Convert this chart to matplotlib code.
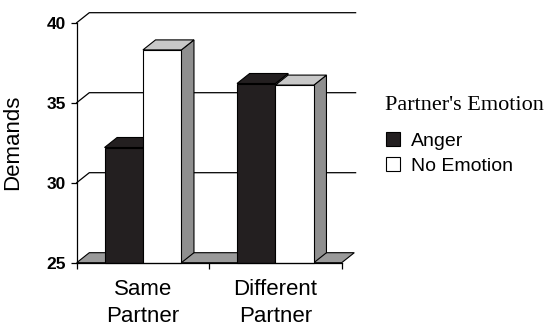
"""Pseudo-3D grouped bar chart: demands by partner and partner's emotion."""

import matplotlib

matplotlib.use("Agg")
import matplotlib.pyplot as plt
from matplotlib.patches import Patch, Polygon

categories = ["Same\nPartner", "Different\nPartner"]
anger = [32.2, 36.2]
no_emotion = [38.3, 36.1]
series_labels = ["Anger", "No Emotion"]
legend_title = "Partner's Emotion"
y_ticks = [25, 30, 35, 40]

plt.rcParams["font.family"] = ["Liberation Sans", "DejaVu Sans"]

# depth offset of the fake 3d box, in data units
DX, DY = 0.095, 0.625
BAR_W = 0.29
FLOOR = 25

fig = plt.figure(figsize=(5.49, 3.27), dpi=100)
ax = fig.add_axes([76.7 / 549, 64.3 / 327, 291.5 / 549, 256 / 327])
ax.set_xlim(0, 2.2)
ax.set_ylim(FLOOR, 41)


def bar3d(x0, top, face, top_color, side_color):
    edge = dict(edgecolor="black", linewidth=0.8, clip_on=False, zorder=3)
    x1 = x0 + BAR_W
    ax.add_patch(Polygon([(x1, FLOOR), (x1, top), (x1 + DX, top + DY),
                          (x1 + DX, FLOOR + DY)], facecolor=side_color, **edge))
    ax.add_patch(Polygon([(x0, top), (x1, top), (x1 + DX, top + DY),
                          (x0 + DX, top + DY)], facecolor=top_color, **edge))
    ax.add_patch(Polygon([(x0, FLOOR), (x1, FLOOR), (x1, top), (x0, top)],
                         facecolor=face, **edge))


# back wall gridlines with the diagonal side-wall edge
n = len(categories)
for v in y_ticks[1:]:
    ax.plot([0, DX, n + DX + 0.01], [v, v + DY, v + DY], color="black",
            lw=0.9, clip_on=False, zorder=1)

# floor
ax.add_patch(Polygon([(0, FLOOR), (n, FLOOR), (n + DX, FLOOR + DY),
                      (DX, FLOOR + DY)], facecolor="#9a9a9a",
                     edgecolor="black", linewidth=0.8, clip_on=False,
                     zorder=2))

for i in range(n):
    centre = i + 0.5
    bar3d(centre - BAR_W, anger[i], "#231f20", "#231f20", "#8f8f8f")
    bar3d(centre, no_emotion[i], "white", "#c8c8c8", "#8f8f8f")

for side in ["top", "right"]:
    ax.spines[side].set_visible(False)
ax.spines["left"].set_bounds(25, 40)
ax.spines["bottom"].set_bounds(0, n)
ax.spines["left"].set_linewidth(0.9)
ax.spines["bottom"].set_linewidth(0.9)
ax.spines["bottom"].set_zorder(4)

ax.set_yticks(y_ticks)
ax.set_yticklabels([str(t) for t in y_ticks], fontsize=12.5, fontweight="bold")
ax.tick_params(axis="y", direction="out", length=4, width=0.9, pad=4)

ax.set_xticks(range(n + 1))
ax.set_xticklabels([""] * (n + 1))
ax.tick_params(axis="x", which="major", direction="out", length=4, width=0.9)
ax.set_xticks([i + 0.5 for i in range(n)], minor=True)
ax.set_xticklabels(categories, minor=True, fontsize=16, linespacing=1.35)
ax.tick_params(axis="x", which="minor", length=0, pad=12)

fig.text(13 / 549, 1 - 142 / 327, "Demands", rotation=90, fontsize=16,
         ha="center", va="center")

fig.text(385 / 549, 1 - 106 / 327, legend_title, family="Liberation Serif",
         fontsize=16, ha="left", va="center")
handles = [Patch(facecolor="#231f20", edgecolor="black", linewidth=0.8),
           Patch(facecolor="white", edgecolor="black", linewidth=0.8)]
leg = fig.legend(handles, series_labels, loc="upper left",
                 bbox_to_anchor=(386 / 549, 1 - 132 / 327), frameon=False,
                 fontsize=14, handlelength=0.7, handleheight=0.7,
                 handletextpad=0.6, labelspacing=0.4, borderpad=0,
                 borderaxespad=0)

fig.savefig("out.png", dpi=100)
